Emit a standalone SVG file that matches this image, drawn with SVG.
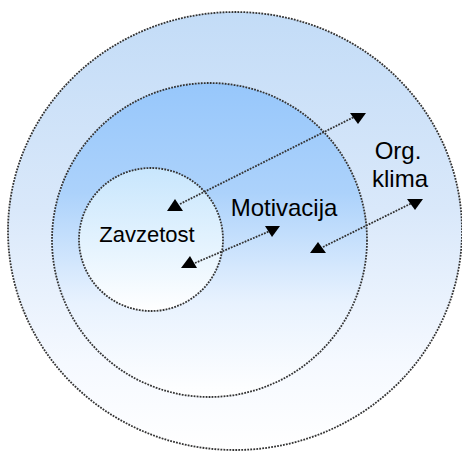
<svg xmlns="http://www.w3.org/2000/svg" width="462" height="452" viewBox="0 0 462 452">
<defs>
<linearGradient id="gOuter" x1="0" y1="0" x2="0" y2="1">
<stop offset="0" stop-color="#c3dcf7"/>
<stop offset="0.45" stop-color="#d9e8fa"/>
<stop offset="0.8" stop-color="#f5f9ff"/>
<stop offset="1" stop-color="#ffffff"/>
</linearGradient>
<linearGradient id="gMid" x1="0" y1="0" x2="0" y2="1">
<stop offset="0" stop-color="#97c7fb"/>
<stop offset="0.35" stop-color="#acd2fb"/>
<stop offset="0.7" stop-color="#e8f2fe"/>
<stop offset="1" stop-color="#ffffff"/>
</linearGradient>
<linearGradient id="gIn" x1="0" y1="0" x2="0" y2="1">
<stop offset="0" stop-color="#c8e6fd"/>
<stop offset="0.5" stop-color="#e2f2fe"/>
<stop offset="1" stop-color="#ffffff"/>
</linearGradient>
</defs>
<style>
.ring{stroke:#333;stroke-width:1.8;stroke-dasharray:1.8 1.2}
.link{fill:none;stroke:#333;stroke-width:1.8;stroke-dasharray:1.8 1.2}
.head{fill:#000}
.lbl{font-family:"Liberation Sans",Arial,sans-serif;fill:#000;text-anchor:middle}
</style>
<g id="org-klima">
<ellipse class="ring" cx="235" cy="231" rx="227" ry="219" fill="url(#gOuter)"/>
<text class="lbl" x="398" y="159" font-size="24">Org.</text>
<text class="lbl" x="400" y="187" font-size="24">klima</text>
</g>
<g id="motivacija">
<ellipse class="ring" cx="209.5" cy="240" rx="157.5" ry="157" fill="url(#gMid)"/>
<text class="lbl" x="284" y="216" font-size="24">Motivacija</text>
</g>
<g id="zavzetost">
<ellipse class="ring" cx="151" cy="239.5" rx="72" ry="71.5" fill="url(#gIn)"/>
<text class="lbl" x="147" y="242" font-size="22">Zavzetost</text>
</g>
<g id="connectors">
<line class="link" x1="180" y1="204" x2="354" y2="117"/>
<polygon class="head" points="167,211 183,211 175,199"/>
<polygon class="head" points="350,113 366,113 358,124"/>
<line class="link" x1="195" y1="263" x2="270" y2="231"/>
<polygon class="head" points="181,268 197,268 190,256"/>
<polygon class="head" points="265,226 280,226 272,237"/>
<line class="link" x1="323" y1="247" x2="412" y2="203"/>
<polygon class="head" points="310,253 326,253 318,242"/>
<polygon class="head" points="407,199 423,199 415,210"/>
</g>
</svg>
